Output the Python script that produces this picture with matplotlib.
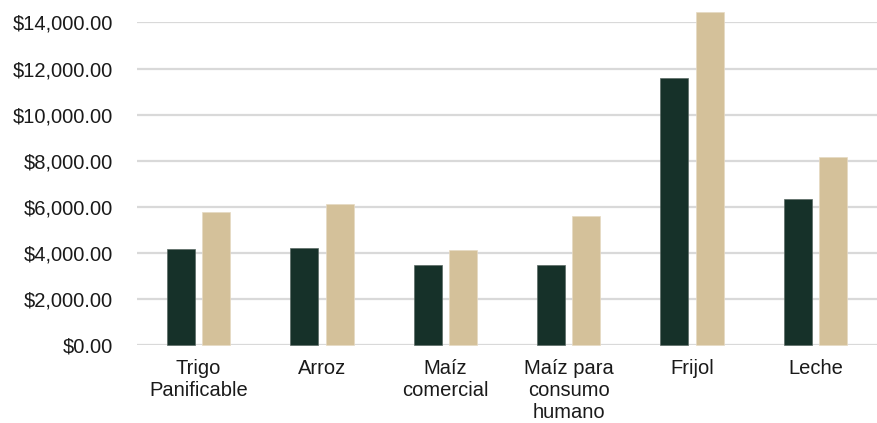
import numpy as np
import matplotlib.pyplot as plt
from matplotlib.ticker import FuncFormatter

plt.rcParams['font.family'] = ['Liberation Sans', 'DejaVu Sans']

categorias = ["Trigo\nPanificable", "Arroz", "Maíz\ncomercial",
              "Maíz para\nconsumo\nhumano", "Frijol", "Leche"]
serie_1 = [4170, 4210, 3490, 3490, 11580, 6340]
serie_2 = [5770, 6110, 4140, 5610, 14470, 8160]

verde = "#163129"
beige = "#D4C19A"

fig = plt.figure(figsize=(8.77, 4.23), dpi=100)
ax = fig.add_axes([0.156, 0.184, 0.844, 0.763])

x = np.arange(len(categorias))
w = 0.227
sep = 0.03
ax.bar(x - w/2 - sep, serie_1, width=w, color=verde, edgecolor="#5a6a64",
       linewidth=0.5, zorder=3, clip_on=False)
ax.bar(x + w/2 + sep, serie_2, width=w, color=beige, edgecolor="#e6dac2",
       linewidth=0.5, zorder=3, clip_on=False)

ax.set_xlim(-0.5, len(categorias) - 0.5)
ax.set_ylim(0, 14000)
ax.set_yticks(np.arange(0, 14001, 2000))
ax.yaxis.set_major_formatter(FuncFormatter(lambda v, p: "${:,.2f}".format(v)))
ax.set_xticks(x)
ax.set_xticklabels(categorias, linespacing=1.2)

ax.grid(axis="y", color="#D9D9D9", linewidth=1.6, zorder=0)
for s in ax.spines.values():
    s.set_visible(False)
ax.tick_params(axis="both", length=0, labelsize=14.5, colors="#1a1a1a")
ax.tick_params(axis="y", pad=17)
ax.tick_params(axis="x", pad=10)

fig.savefig("out.png", dpi=100)
